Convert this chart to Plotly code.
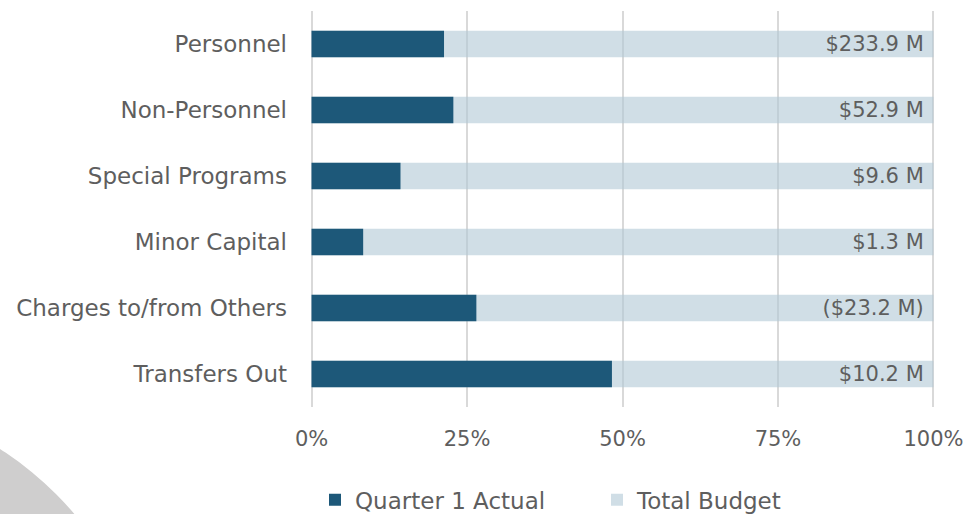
import plotly.graph_objects as go

categories = ["Personnel", "Non-Personnel", "Special Programs", "Minor Capital",
              "Charges to/from Others", "Transfers Out"]
q1_actual_pct = [21.3, 22.8, 14.3, 8.3, 26.5, 48.3]
total_budget_pct = [100, 100, 100, 100, 100, 100]
budget_labels = ["$233.9 M", "$52.9 M", "$9.6 M", "$1.3 M", "($23.2 M)", "$10.2 M"]
x_ticks = [0, 25, 50, 75, 100]
x_tick_labels = ["0%", "25%", "50%", "75%", "100%"]

FONT = "DejaVu Sans"
GRAY = "#5E5E5E"

fig = go.Figure()
fig.add_trace(go.Bar(
    y=categories, x=total_budget_pct, orientation="h", name="Total Budget",
    marker=dict(color="rgba(176,200,214,0.6)", line=dict(width=0)),
    text=budget_labels, texttemplate="%{text}\u00a0", textposition="inside",
    insidetextanchor="end", constraintext="none", cliponaxis=False,
    textfont=dict(family=FONT, size=21, color=GRAY), width=0.4,
    hoverinfo="skip",
))
fig.add_trace(go.Bar(
    y=categories, x=q1_actual_pct, orientation="h", name="Quarter 1 Actual",
    marker=dict(color="#1D5879", line=dict(width=0)), width=0.4,
))

L, R, T, B = 309.5, 41.5, 11, 107
W, H = 977, 514
pw, ph = W - L - R, H - T - B

def px_x(p):
    return (p - L) / pw

def px_y(p):
    return (H - B - p) / ph

fig.add_shape(type="circle", xref="paper", yref="paper",
              x0=px_x(-510), x1=px_x(152), y0=px_y(1059), y1=px_y(397),
              fillcolor="#CFCECE", line=dict(width=0), layer="below")

fig.update_layout(
    width=W, height=H, barmode="overlay",
    margin=dict(l=L, r=R, t=T, b=B, autoexpand=False),
    paper_bgcolor="white", plot_bgcolor="white",
    font=dict(family=FONT, color=GRAY, size=21),
    xaxis=dict(range=[-0.25, 100.25], tickvals=x_ticks, ticktext=x_tick_labels,
               showgrid=True, gridcolor="#D9D9D9", gridwidth=1.5,
               zeroline=False, showline=False, ticks="", automargin=False,
               ticklabelstandoff=17, tickfont=dict(size=21, color=GRAY)),
    yaxis=dict(categoryorder="array", categoryarray=categories[::-1],
               showgrid=False, ticks="", ticklabelstandoff=22, automargin=False,
               tickfont=dict(size=23, color=GRAY)),
    legend=dict(orientation="h", x=0.008, xanchor="left", y=-0.18, yanchor="top",
                traceorder="reversed", font=dict(size=23, color=GRAY),
                entrywidth=237, itemwidth=30),
    showlegend=True,
)

fig.write_html("out.html", config={"displayModeBar": False},
               post_script="document.body.style.margin='0';")
